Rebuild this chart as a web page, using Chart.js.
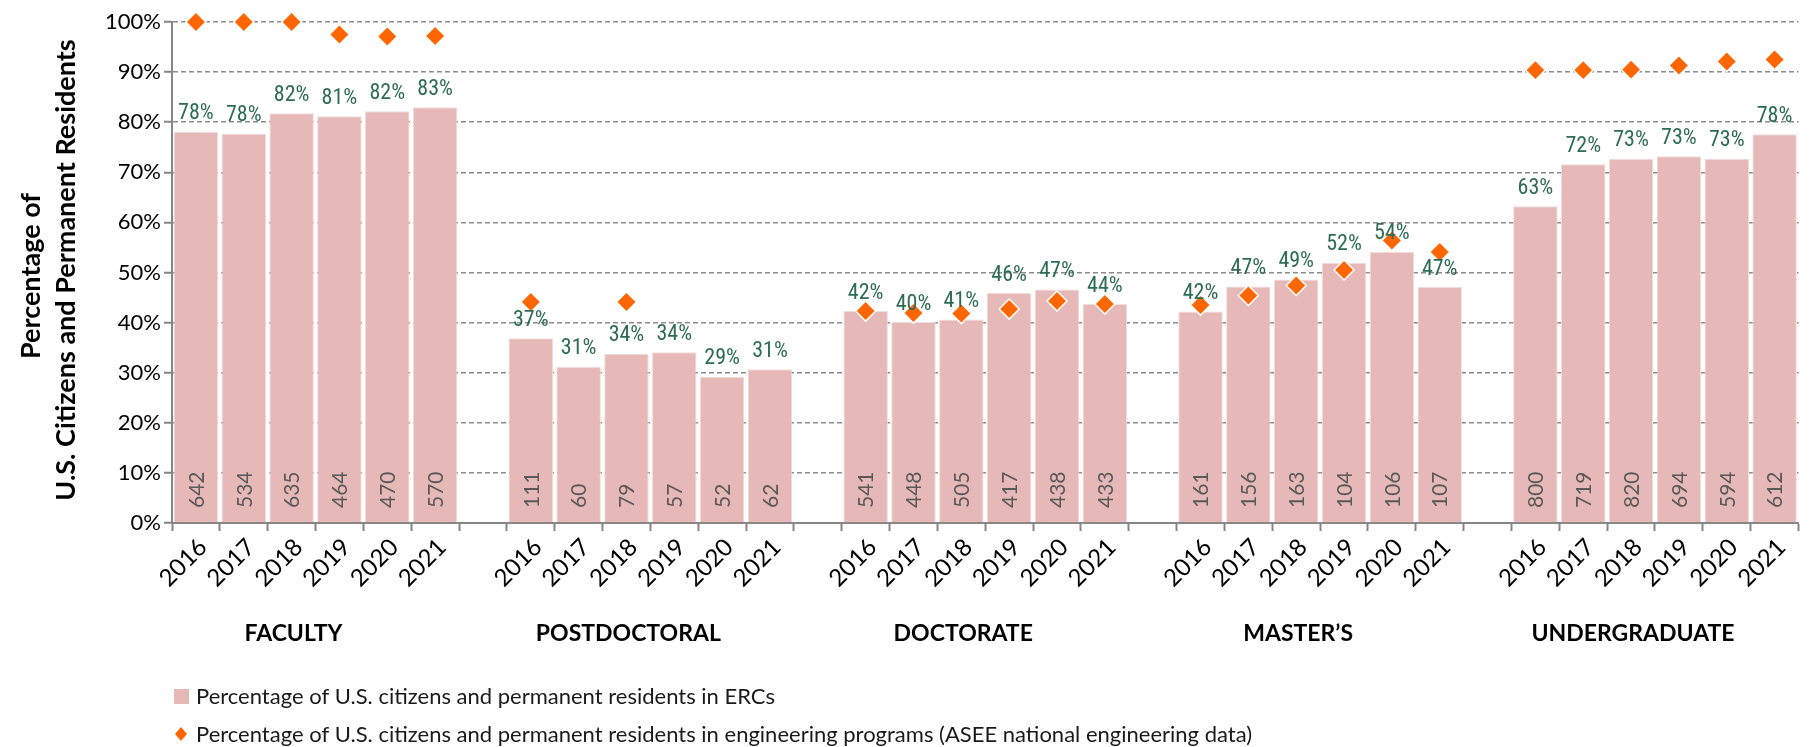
<!DOCTYPE html>
<html>
<head>
<meta charset="utf-8">
<script src="https://cdn.jsdelivr.net/npm/chart.js@4.4.1/dist/chart.umd.min.js"></script>
<style>
  html, body { margin: 0; padding: 0; background: #ffffff; }
  #wrap { width: 1810px; height: 747px; position: relative; }
  canvas { display: block; }
</style>
</head>
<body>
<div id="wrap"><canvas id="c" width="1810" height="747"></canvas></div>
<script>
// ---- Data ----
const groups = ['FACULTY', 'POSTDOCTORAL', 'DOCTORATE', 'MASTER\u2019S', 'UNDERGRADUATE'];
const years = ['2016', '2017', '2018', '2019', '2020', '2021'];

// Percentage of U.S. citizens and permanent residents in ERCs
const facultyPct   = [78.1, 77.7, 81.8, 81.2, 82.2, 83.0];
const postdocPct   = [36.9, 31.2, 33.8, 34.1, 29.2, 30.7];
const doctoratePct = [42.3, 40.1, 40.6, 45.9, 46.6, 43.7];
const mastersPct   = [42.2, 47.2, 48.6, 51.9, 54.1, 47.1];
const undergradPct = [63.2, 71.6, 72.7, 73.2, 72.7, 77.6];

// Percentage in engineering programs (ASEE national engineering data)
const facultyAsee   = [100, 100, 100, 97.5, 97.1, 97.2];
const postdocAsee   = [44.1, null, 44.1, null, null, null];
const doctorateAsee = [42.3, 41.9, 41.8, 42.7, 44.3, 43.7];
const mastersAsee   = [43.5, 45.4, 47.4, 50.5, 56.4, 54.1];
const undergradAsee = [90.4, 90.4, 90.5, 91.3, 92.1, 92.5];

// Counts shown inside the bars
const facultyN   = [642, 534, 635, 464, 470, 570];
const postdocN   = [111, 60, 79, 57, 52, 62];
const doctorateN = [541, 448, 505, 417, 438, 433];
const mastersN   = [161, 156, 163, 104, 106, 107];
const undergradN = [800, 719, 820, 694, 594, 612];

const yTicks = [0, 10, 20, 30, 40, 50, 60, 70, 80, 90, 100];

const seriesBarName = 'Percentage of U.S. citizens and permanent residents in ERCs';
const seriesPtName  = 'Percentage of U.S. citizens and permanent residents in engineering programs (ASEE national engineering data)';

// ---- Build category table (gap slot between groups) ----
const pctGroups  = [facultyPct, postdocPct, doctoratePct, mastersPct, undergradPct];
const aseeGroups = [facultyAsee, postdocAsee, doctorateAsee, mastersAsee, undergradAsee];
const nGroups    = [facultyN, postdocN, doctorateN, mastersN, undergradN];

const labels = [], barData = [], ptData = [], countData = [], groupSlots = [];
pctGroups.forEach((g, gi) => {
  if (gi > 0) { labels.push(''); barData.push(null); ptData.push(null); countData.push(null); }
  const start = labels.length;
  years.forEach((y, i) => {
    labels.push(y);
    barData.push(g[i]);
    ptData.push(aseeGroups[gi][i]);
    countData.push(nGroups[gi][i]);
  });
  groupSlots.push([start, labels.length - 1]);
});

// ---- Styling ----
const BAR_COLOR = '#e6b8b7';
const PT_COLOR = '#ff6600';
const LABEL_GREEN = '#2e6b57';
const COUNT_GRAY = '#595959';
const AXIS_GRAY = '#868686';
const GRID_GRAY = '#8c8c8c';
const FONT = 'Lato, "Open Sans", "DejaVu Sans", sans-serif';
const NARROW = '"Liberation Sans Narrow", "Roboto Condensed", "DejaVu Sans Condensed", sans-serif';

const extras = {
  id: 'extras',
  afterDatasetsDraw(chart) {
    const ctx = chart.ctx;
    const meta = chart.getDatasetMeta(0);
    const area = chart.chartArea;
    ctx.save();
    meta.data.forEach((bar, i) => {
      const v = barData[i];
      if (v == null) return;
      ctx.font = '22px ' + NARROW;
      ctx.fillStyle = LABEL_GREEN;
      ctx.textAlign = 'center';
      ctx.textBaseline = 'bottom';
      ctx.fillText(Math.round(v) + '%', bar.x, bar.y - 7);
      ctx.save();
      ctx.translate(bar.x, area.bottom - 15);
      ctx.rotate(-Math.PI / 2);
      ctx.font = '21px ' + FONT;
      ctx.fillStyle = COUNT_GRAY;
      ctx.textAlign = 'left';
      ctx.textBaseline = 'middle';
      ctx.fillText(String(countData[i]), 0, 1);
      ctx.restore();
    });
    ctx.restore();
  },
  afterDraw(chart) {
    const ctx = chart.ctx;
    const xs = chart.scales.x;
    ctx.save();
    ctx.font = 'bold 23px ' + FONT;
    ctx.fillStyle = '#000';
    ctx.textAlign = 'center';
    ctx.textBaseline = 'middle';
    groupSlots.forEach((s, gi) => {
      const cx = (xs.getPixelForValue(s[0]) + xs.getPixelForValue(s[1])) / 2 - 22;
      ctx.fillText(groups[gi], cx, 634);
    });
    ctx.font = 'bold 27px ' + FONT;
    ctx.save();
    ctx.translate(31, 276);
    ctx.rotate(-Math.PI / 2);
    ctx.fillText('Percentage of', 0, 0);
    ctx.restore();
    ctx.save();
    ctx.translate(66, 270);
    ctx.rotate(-Math.PI / 2);
    ctx.fillText('U.S. Citizens and Permanent Residents', 0, 0);
    ctx.restore();
    ctx.font = '22px ' + FONT;
    ctx.textAlign = 'left';
    ctx.fillStyle = BAR_COLOR;
    ctx.fillRect(174, 689, 15, 15);
    ctx.fillStyle = '#1a1a1a';
    ctx.fillText(seriesBarName, 196, 697);
    ctx.fillStyle = PT_COLOR;
    ctx.beginPath();
    ctx.moveTo(181, 727); ctx.lineTo(187, 734); ctx.lineTo(181, 741); ctx.lineTo(175, 734);
    ctx.closePath(); ctx.fill();
    ctx.fillStyle = '#1a1a1a';
    ctx.fillText(seriesPtName, 196, 735);
    ctx.restore();
  }
};

new Chart(document.getElementById('c'), {
  type: 'bar',
  data: {
    labels: labels,
    datasets: [
      {
        type: 'bar',
        label: seriesBarName,
        data: barData,
        backgroundColor: BAR_COLOR,
        borderColor: '#f2dcdb',
        borderWidth: 1,
        barPercentage: 0.93,
        categoryPercentage: 1.0,
        order: 2
      },
      {
        type: 'line',
        label: seriesPtName,
        data: ptData,
        showLine: false,
        clip: false,
        pointStyle: 'rectRot',
        pointRadius: 10,
        pointBackgroundColor: PT_COLOR,
        pointBorderColor: '#ffffff',
        pointBorderWidth: 1.5,
        order: 1
      }
    ]
  },
  options: {
    responsive: false,
    animation: false,
    events: [],
    layout: { padding: { top: 22, right: 0, left: 0, bottom: 0 } },
    plugins: {
      legend: { display: false },
      tooltip: { enabled: false }
    },
    scales: {
      x: {
        offset: true,
        grid: { display: true, offset: true, drawOnChartArea: false, drawTicks: true, tickLength: 8, tickColor: AXIS_GRAY, tickWidth: 2 },
        border: { display: true, color: AXIS_GRAY, width: 2 },
        ticks: {
          autoSkip: false, maxRotation: 45, minRotation: 45, labelOffset: 7,
          font: { family: FONT, size: 24 }, color: '#000', padding: 2
        },
        afterFit(scale) { scale.height = 224; scale.paddingLeft = 0; scale.paddingRight = 0; }
      },
      y: {
        min: 0, max: 100,
        afterBuildTicks(scale) { scale.ticks = yTicks.map(v => ({ value: v })); },
        grid: { color: GRID_GRAY, lineWidth: 1.5, drawTicks: true, tickLength: 8, tickColor: AXIS_GRAY, tickWidth: 2 },
        border: { display: true, color: AXIS_GRAY, width: 2, dash: [5, 3] },
        ticks: {
          callback: v => v + '%',
          font: { family: FONT, size: 22 }, color: '#000', padding: 3
        },
        afterFit(scale) { scale.width = 172; scale.paddingTop = 0; scale.paddingBottom = 0; }
      }
    }
  },
  plugins: [extras]
});
</script>
</body>
</html>
